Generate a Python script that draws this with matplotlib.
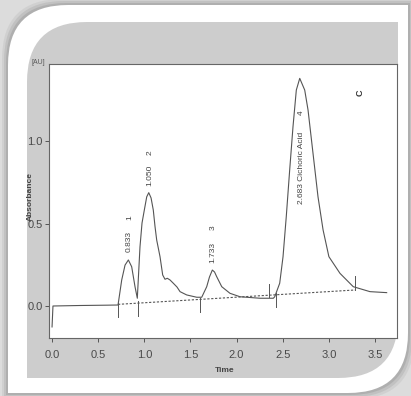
import numpy as np
import matplotlib
matplotlib.use("Agg")
import matplotlib.pyplot as plt
from matplotlib.path import Path
from matplotlib.patches import PathPatch
from matplotlib.transforms import Affine2D

plt.rcParams['font.family'] = ['Liberation Sans', 'DejaVu Sans']

# chromatogram trace
time = [0.0, 0.01, 0.30, 0.60, 0.715, 0.755, 0.791, 0.827, 0.863, 0.899, 0.924,
        0.953, 0.975, 1.0, 1.026, 1.048, 1.073, 1.097, 1.116, 1.134, 1.170, 1.199,
        1.224, 1.249, 1.278, 1.314, 1.354, 1.387, 1.459, 1.568, 1.622, 1.676,
        1.706, 1.737, 1.761, 1.784, 1.839, 1.928, 2.037, 2.254, 2.398, 2.413,
        2.467, 2.503, 2.538, 2.575, 2.611, 2.647, 2.684, 2.738, 2.774, 2.828,
        2.882, 2.937, 3.0, 3.12, 3.264, 3.445, 3.626]
absorb = [-0.127, 0.0, 0.003, 0.005, 0.006, 0.158, 0.248, 0.279, 0.238, 0.117, 0.047,
          0.359, 0.503, 0.582, 0.662, 0.687, 0.655, 0.582, 0.481, 0.400, 0.299, 0.188,
          0.162, 0.168, 0.158, 0.138, 0.115, 0.087, 0.067, 0.053, 0.053, 0.117,
          0.176, 0.218, 0.206, 0.178, 0.117, 0.077, 0.056, 0.047, 0.047, 0.056,
          0.138, 0.299, 0.541, 0.824, 1.087, 1.309, 1.380, 1.309, 1.188, 0.925,
          0.662, 0.461, 0.299, 0.198, 0.117, 0.087, 0.081]

# integration baseline (dotted)
base_t = [0.715, 3.283]
base_y = [0.010, 0.097]

# peak start/end markers
down_marks = [0.715, 0.932, 1.603, 2.427]
up_marks = [2.351, 3.283]
up_marks_y = [0.055, 0.100]

peak_times = ['0.833', '1.050', '1.733', '2.683 Cichoric Acid']
peak_nums = ['1', '2', '3', '4']

xticks = [0.0, 0.5, 1.0, 1.5, 2.0, 2.5, 3.0, 3.5]
yticks = [0.0, 0.5, 1.0]

W, H = 411, 396
fig = plt.figure(figsize=(W / 100, H / 100), dpi=100)
fig.patch.set_facecolor('#dcdcdc')

px = Affine2D().scale(1 / W, 1 / H) + fig.transFigure


def card(x0, y0, x1, y1, r):
    # rounded top-left and bottom-right corners, pixel coords from top
    y0, y1 = H - y0, H - y1
    verts = [(x0 + r, y0), (x1, y0), (x1, y1 + r), (x1, y1), (x1 - r, y1),
             (x0, y1), (x0, y0 - r), (x0, y0), (x0 + r, y0), (x0 + r, y0)]
    codes = [Path.MOVETO, Path.LINETO, Path.LINETO, Path.CURVE3, Path.CURVE3,
             Path.LINETO, Path.LINETO, Path.CURVE3, Path.CURVE3, Path.CLOSEPOLY]
    return Path(verts, codes)


for k, a in [(6, 0.05), (4, 0.07), (2, 0.09)]:
    fig.patches.append(PathPatch(card(8 - k, 5 - k, 408 + k, 393 + k, 60), transform=px,
                                 fc='black', ec='none', alpha=a, zorder=0))
fig.patches.append(PathPatch(card(8, 5, 408, 393, 60), transform=px,
                             fc='white', ec='none', zorder=1))
fig.patches.append(PathPatch(card(27, 22, 398, 378, 60), transform=px,
                             fc='#cdcdcd', ec='none', zorder=2))

ax = fig.add_axes([49 / W, 1 - 338 / H, 348 / W, 274 / H])
ax.set_zorder(3)
ax.set_facecolor('white')

ink = '#555555'
ax.plot(time, absorb, color=ink, lw=0.8)
ax.plot(base_t, base_y, color=ink, lw=0.8, ls=(0, (2, 1.5)))
for t in down_marks:
    yb = np.interp(t, base_t, base_y, left=0.01)
    ax.plot([t, t], [yb + 0.01, yb - 0.075], color=ink, lw=0.7)
for t, yb in zip(up_marks, up_marks_y):
    ax.plot([t, t], [yb, yb + 0.08], color=ink, lw=0.7)

label_x = [0.838, 1.062, 1.744, 2.705]
label_y = [0.388, 0.794, 0.327, 0.836]
num_y = [0.533, 0.927, 0.473, 1.170]
for name, num, lx, ly, ny in zip(peak_times, peak_nums, label_x, label_y, num_y):
    ax.text(lx, ly, name, rotation=90, fontsize=6, color='#444444', ha='center', va='center')
    ax.text(lx, ny, num, rotation=90, fontsize=6, color='#444444', ha='center', va='center')

ax.text(3.337, 1.29, 'C', rotation=90, fontsize=6.5, fontweight='bold', color='#333333',
        ha='center', va='center')

ax.set_xlim(-0.033, 3.738)
ax.set_ylim(-0.194, 1.467)
ax.set_xticks(xticks)
ax.set_xticklabels(['%.1f' % v for v in xticks])
ax.set_yticks(yticks)
ax.set_yticklabels(['%.1f' % v for v in yticks])
ax.tick_params(colors=ink, labelcolor='#4a4a4a', labelsize=8, length=3, width=0.7)
ax.tick_params(axis='x', pad=6)
ax.tick_params(axis='y', pad=1.5)
for s in ax.spines.values():
    s.set_color('#666666')
    s.set_linewidth(0.8)

fig.text(225 / W, 1 - 370 / H, 'Time', fontsize=6, fontweight='bold', color='#444444',
         ha='center', va='center', zorder=5)
fig.text(30 / W, 1 - 197 / H, 'Absorbance', fontsize=6, fontweight='bold', rotation=90,
         color='#444444', ha='center', va='center', zorder=5)
fig.text(38 / W, 1 - 62 / H, '[AU]', fontsize=5, color='#555555',
         ha='center', va='center', zorder=5)

fig.savefig('out.png', dpi=100, facecolor=fig.get_facecolor())
